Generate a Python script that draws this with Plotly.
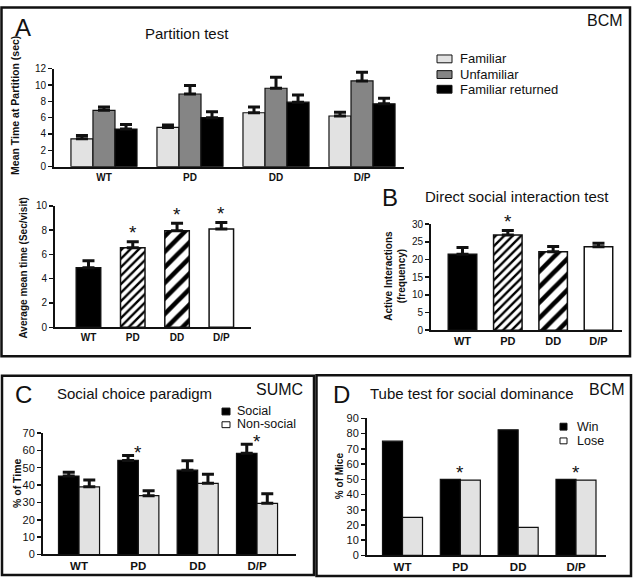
import plotly.graph_objects as go

# ---------------- data ----------------
groups = ["WT", "PD", "DD", "D/P"]

partition_series = ["Familiar", "Unfamiliar", "Familiar returned"]
partition_familiar = [3.4, 4.8, 6.6, 6.2]
partition_familiar_sem = [0.4, 0.3, 0.7, 0.45]
partition_unfamiliar = [6.9, 8.9, 9.6, 10.5]
partition_unfamiliar_sem = [0.4, 1.05, 1.35, 1.05]
partition_returned = [4.6, 6.0, 7.9, 7.7]
partition_returned_sem = [0.55, 0.72, 0.88, 0.68]

visit_mean = [4.9, 6.55, 7.95, 8.1]
visit_sem = [0.58, 0.5, 0.62, 0.52]
visit_sig = [False, True, True, True]

interaction_mean = [21.5, 26.9, 22.2, 23.6]
interaction_sem = [1.9, 1.3, 1.45, 1.0]
interaction_sig = [False, True, False, False]

choice_series = ["Social", "Non-social"]
social_pct = [45.2, 54.2, 48.6, 58.3]
social_sem = [2.2, 2.8, 5.4, 5.3]
nonsocial_pct = [39.0, 33.9, 41.0, 29.5]
nonsocial_sem = [3.9, 2.8, 5.3, 5.5]
choice_sig = [False, True, False, True]

dominance_series = ["Win", "Lose"]
win_pct = [75, 50, 82.5, 50]
lose_pct = [25, 49.5, 18.5, 49.5]
dominance_sig = [False, True, False, True]

# ---------------- styling helpers ----------------
W, H = 633, 584
FONT = "Liberation Sans, Arial, sans-serif"
INK = "#111111"
LIGHT = "#e2e2e2"
MID = "#858585"


def px(x):
    return x / W


def py(y):
    return 1 - y / H


fig = go.Figure()

err_style = dict(type="data", symmetric=False, color=INK, thickness=3, width=6)


def err(vals):
    return dict(err_style, array=vals, arrayminus=[0] * len(vals))


# ---- Panel A top: partition test ----
a_w = 0.256
a_cols = [LIGHT, MID, "black"]
a_vals = [partition_familiar, partition_unfamiliar, partition_returned]
a_sems = [partition_familiar_sem, partition_unfamiliar_sem, partition_returned_sem]
for i, name in enumerate(partition_series):
    fig.add_trace(go.Bar(
        x=groups, y=a_vals[i], name=name, width=a_w, offset=-1.5 * a_w + i * a_w,
        marker=dict(color=a_cols[i], line=dict(color=INK, width=1.2)),
        error_y=err(a_sems[i]), xaxis="x", yaxis="y", showlegend=False))

# genotype fill styles shared by panels A-bottom and B
# WT solid black, PD fine hatch, DD wide hatch, D/P open
geno_fill = [
    dict(color="black"),
    dict(color="white", pattern=dict(shape="/", size=6, solidity=0.4, fgcolor="black",
                                     bgcolor="white", fillmode="replace")),
    dict(color="white", pattern=dict(shape="/", size=11, solidity=0.42, fgcolor="black",
                                     bgcolor="white", fillmode="replace")),
    dict(color="white"),
]

# ---- Panel A bottom: average mean time ----
w2 = 0.553
for i, g in enumerate(groups):
    fig.add_trace(go.Bar(
        x=[g], y=[visit_mean[i]], width=w2, offset=-w2 / 2, name=g,
        marker=dict(line=dict(color=INK, width=1.5), **geno_fill[i]),
        error_y=err([visit_sem[i]]), xaxis="x2", yaxis="y2", showlegend=False))

# ---- Panel B: direct social interaction ----
w3 = 0.629
for i, g in enumerate(groups):
    fig.add_trace(go.Bar(
        x=[g], y=[interaction_mean[i]], width=w3, offset=-w3 / 2, name=g,
        marker=dict(line=dict(color=INK, width=1.5), **geno_fill[i]),
        error_y=err([interaction_sem[i]]), xaxis="x3", yaxis="y3", showlegend=False))

# ---- Panel C: social choice ----
w4 = 0.346
fig.add_trace(go.Bar(
    x=groups, y=social_pct, width=w4, offset=-w4, name=choice_series[0],
    marker=dict(color="black", line=dict(color=INK, width=1.2)),
    error_y=err(social_sem), xaxis="x4", yaxis="y4", showlegend=False))
fig.add_trace(go.Bar(
    x=groups, y=nonsocial_pct, width=w4, offset=0, name=choice_series[1],
    marker=dict(color=LIGHT, line=dict(color=INK, width=1.2)),
    error_y=err(nonsocial_sem), xaxis="x4", yaxis="y4", showlegend=False))

# ---- Panel D: tube test ----
w5 = 0.346
fig.add_trace(go.Bar(
    x=groups, y=win_pct, width=w5, offset=-w5, name=dominance_series[0],
    marker=dict(color="black", line=dict(color=INK, width=1.2)),
    xaxis="x5", yaxis="y5", showlegend=False))
fig.add_trace(go.Bar(
    x=groups, y=lose_pct, width=w5, offset=0, name=dominance_series[1],
    marker=dict(color=LIGHT, line=dict(color=INK, width=1.2)),
    xaxis="x5", yaxis="y5", showlegend=False))


# ---------------- axes ----------------
def xax(dom, rng, anchor, size):
    return dict(domain=[px(dom[0]), px(dom[1])], range=rng, type="category", anchor=anchor,
                showline=True, linecolor=INK, linewidth=2, ticks="", showgrid=False,
                zeroline=False, fixedrange=True, categoryorder="array", categoryarray=groups,
                tickfont=dict(family=FONT, size=size, color=INK, weight="bold"))


def yax(dom, rng, dtick, anchor, size):
    return dict(domain=[py(dom[1]), py(dom[0])], range=rng, dtick=dtick, anchor=anchor,
                showline=True, linecolor=INK, linewidth=2, ticks="outside", ticklen=4,
                tickwidth=1.5, tickcolor=INK, showgrid=False, zeroline=False, fixedrange=True,
                tickfont=dict(family=FONT, size=size, color=INK))


fig.update_layout(
    xaxis=xax([54, 404], [-0.581, 3.488], "y", 10),
    yaxis=yax([64, 164], [0, 12], 2, "x", 10),
    xaxis2=xax([55, 251], [-0.756, 3.67], "y2", 10),
    yaxis2=yax([204, 328], [0, 10], 2, "x2", 10),
    xaxis3=xax([431, 622], [-0.695, 3.519], "y3", 11),
    yaxis3=yax([222.7, 331], [0, 30], 5, "x3", 10),
    xaxis4=xax([43, 296], [-0.607, 3.657], "y4", 11.5),
    yaxis4=yax([436, 560], [0, 70], 10, "x4", 11),
    xaxis5=xax([367, 606], [-0.614, 3.519], "y5", 11.5),
    yaxis5=yax([421, 561], [0, 90], 10, "x5", 11),
)

# ---------------- annotations ----------------
ann = []


def text(x, y, s, size, bold=False, anchor="center", angle=0):
    f = dict(family=FONT, size=size, color=INK)
    if bold:
        f["weight"] = "bold"
    ann.append(dict(x=px(x), y=py(y), xref="paper", yref="paper", text=s, showarrow=False,
                    xanchor=anchor, yanchor="middle", font=f, textangle=angle))


# panel letters and titles
text(23, 22, "A", 24)
text(187, 28, "Partition test", 15)
text(625, 15, "BCM", 16, anchor="right")
text(390.5, 196, "B", 24)
text(517, 194, "Direct social interaction test", 15)
text(23, 396.5, "C", 24)
text(134, 396, "Social choice paradigm", 15)
text(305, 392, "SUMC", 16, anchor="right")
text(341.5, 396.5, "D", 24)
text(472, 396, "Tube test for social dominance", 15)
text(627, 392, "BCM", 16, anchor="right")

# y axis titles
text(15, 102, "Mean Time at Partition (sec)", 10.5, bold=True, angle=-90)
text(23, 268, "Average mean time (Sec/visit)", 10, bold=True, angle=-90)
text(395.5, 276, "Active Interactions<br>(frequency)", 10, bold=True, angle=-90)
text(17, 487, "% of Time", 10.5, bold=True, angle=-90)
text(339, 480, "% of Mice", 10, bold=True, angle=-90)


# significance asterisks (placed from data)
def star(xa, ya, cat, yval, shift):
    ann.append(dict(x=cat, y=yval, xref=xa, yref=ya, text="*", showarrow=False,
                    xanchor="center", yanchor="middle", yshift=shift,
                    font=dict(family=FONT, size=19, color=INK)))


for g, m, s, sig in zip(groups, visit_mean, visit_sem, visit_sig):
    if sig:
        star("x2", "y2", g, m + s, 9)
for g, m, s, sig in zip(groups, interaction_mean, interaction_sem, interaction_sig):
    if sig:
        star("x3", "y3", g, m + s, 9)
for g, m, s, sig in zip(groups, social_pct, social_sem, choice_sig):
    if sig:
        star("x4", "y4", g, m + s, 3)
for g, w_, l_, sig in zip(groups, win_pct, lose_pct, dominance_sig):
    if sig:
        star("x5", "y5", g, max(w_, l_), 7)

# manual legends
shapes = []


def key(x0, x1, y0, y1, color):
    shapes.append(dict(type="rect", xref="paper", yref="paper", x0=px(x0), x1=px(x1),
                       y0=py(y1), y1=py(y0), fillcolor=color, line=dict(color=INK, width=1)))


leg_a = [(50, 58, LIGHT), (66, 74, MID), (81, 89, "black")]
for (y0, y1, c), name in zip(leg_a, partition_series):
    key(437, 452, y0, y1, c)
    text(458, (y0 + y1) / 2, name, 13, anchor="left")

leg_c = [(410.5, 417.5, "black"), (424.5, 430.5, "white")]
for (y0, y1, c), name in zip(leg_c, choice_series):
    key(222, 230, y0, y1, c)
    text(235, (y0 + y1) / 2 - 0.5, name, 12.5, anchor="left")

leg_d = [(426, 433, "black"), (441, 447, "white")]
for (y0, y1, c), name in zip(leg_d, dominance_series):
    key(560, 567, y0, y1, c)
    text(575, (y0 + y1) / 2, name, 12.5, anchor="left")

# panel frames
for (x0, y0, x1, y1) in [(1.5, 1.5, 630, 357.5), (2, 377.5, 314, 581), (316.5, 377, 631, 582)]:
    shapes.append(dict(type="rect", xref="paper", yref="paper", x0=px(x0), x1=px(x1),
                       y0=py(y1), y1=py(y0), line=dict(color=INK, width=2.5),
                       fillcolor="rgba(0,0,0,0)", layer="above"))

fig.update_layout(
    width=W, height=H, autosize=False,
    margin=dict(l=0, r=0, t=0, b=0),
    paper_bgcolor="white", plot_bgcolor="white",
    barmode="overlay", showlegend=False,
    font=dict(family=FONT, color=INK),
    annotations=ann, shapes=shapes,
)

fig.write_html("out.html", include_plotlyjs=True,
               config={"displayModeBar": False, "staticPlot": True},
               post_script="document.body.style.margin='0';document.body.style.overflow='hidden';")
